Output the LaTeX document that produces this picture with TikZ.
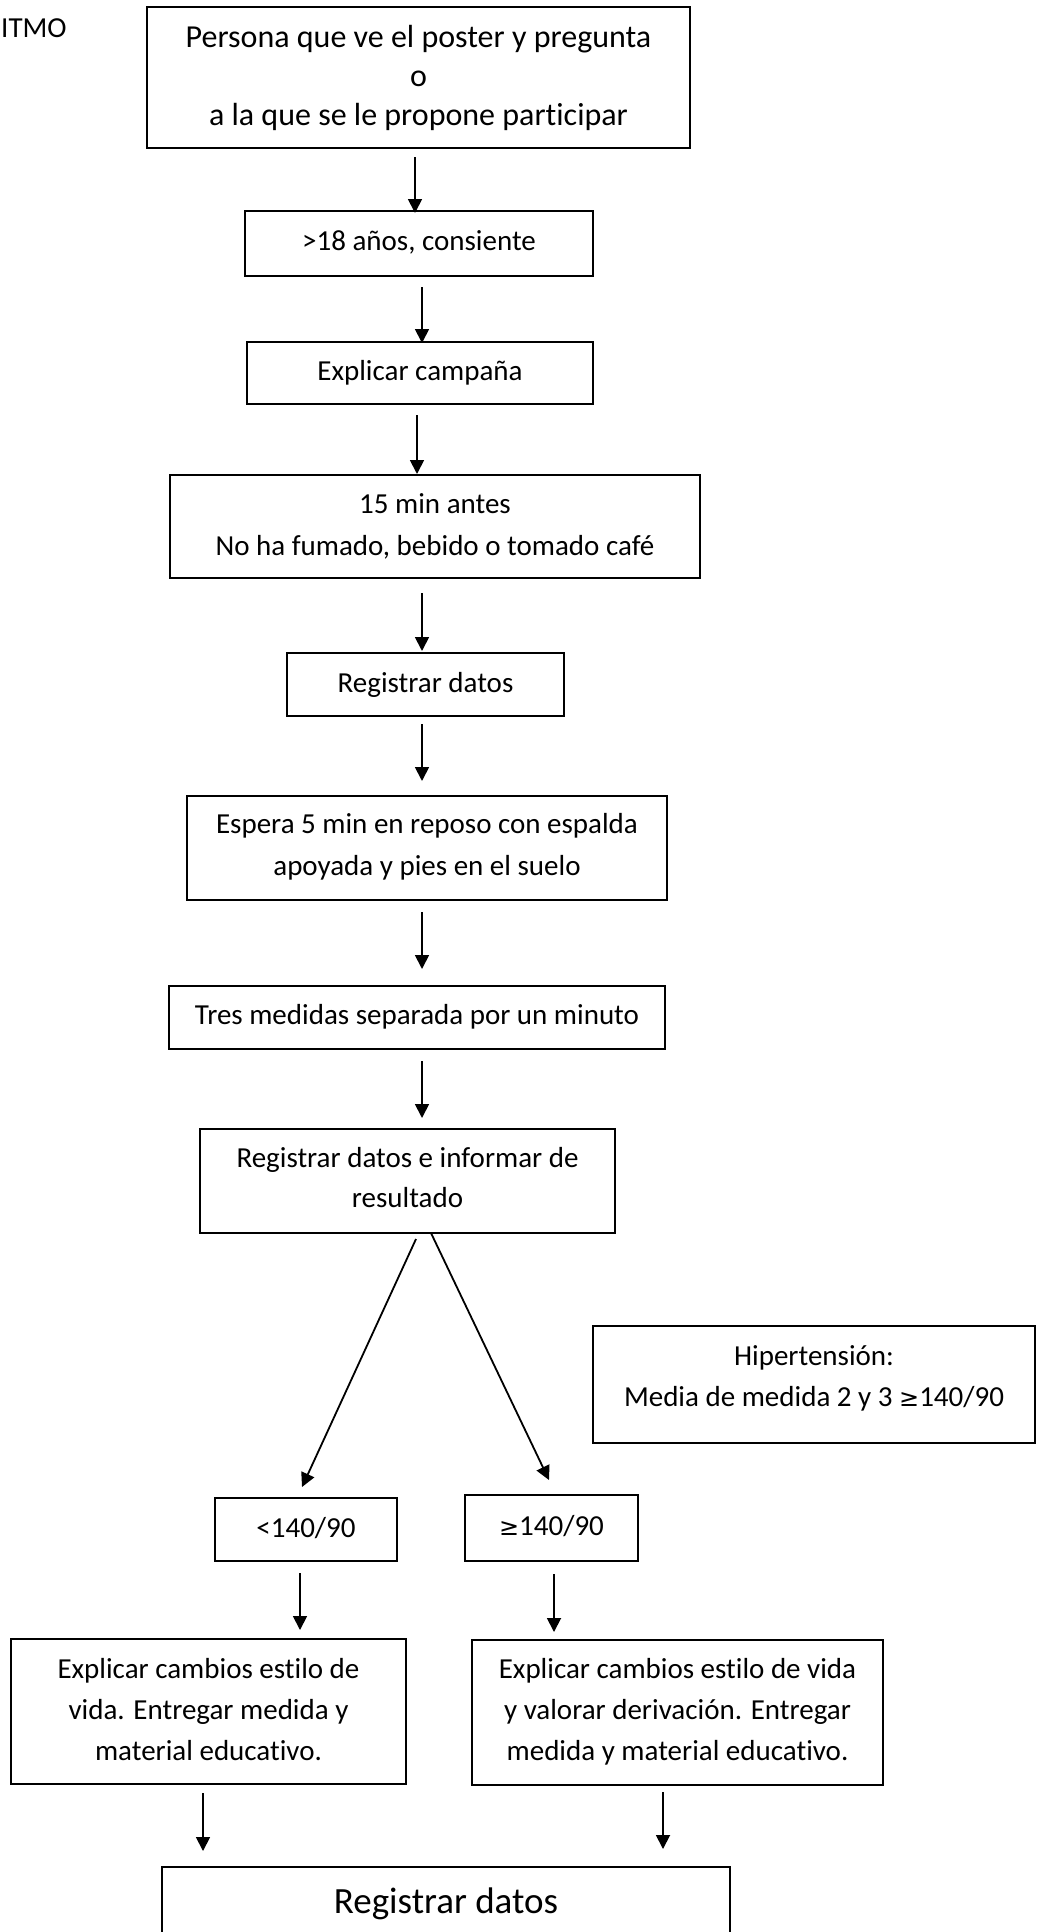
\documentclass[tikz,border=0pt]{standalone}
\usepackage{fontspec}
\setmainfont{Carlito}[Ligatures={NoCommon,NoRequired,NoContextual}]
\newfontfamily\symf{DejaVu Sans}
\usetikzlibrary{arrows.meta}
\begin{document}
\begin{tikzpicture}[x=1pt,y=-1pt,
  box/.style={draw, line width=1.9pt, inner sep=0pt, outer sep=0pt, text height=20pt},
  arr/.style={line width=1.8pt, -{Triangle[width=14pt,length=14pt]}},
  f11/.style={font=\fontsize{29}{41}\selectfont},
]
\useasboundingbox (0,0) rectangle (1036,1932);
\clip (0,0) rectangle (1036,1932);

\node[f11, anchor=base west, inner sep=0pt] (itmo) at (1,38) {ITMO};

\node[box, font=\fontsize{32}{39}\selectfont, minimum width=543pt, minimum height=141pt, text depth=79pt] (n1) at (418.5,77.5)
  {\begin{tabular}[t]{@{}c@{}}Persona que ve el poster y pregunta\\ o\\ a la que se le propone participar\end{tabular}};
\node[box, f11, minimum width=348pt, minimum height=65pt, text depth=7pt] (n2) at (419,243.5)
  {\begin{tabular}[t]{@{}c@{}}>18 años, consiente\end{tabular}};
\node[box, f11, minimum width=346pt, minimum height=62pt, text depth=6pt] (n3) at (420,373)
  {\begin{tabular}[t]{@{}c@{}}Explicar campaña\end{tabular}};
\node[box, font=\fontsize{29}{42}\selectfont, minimum width=530pt, minimum height=103pt, text depth=47pt] (n4) at (435,526.5)
  {\begin{tabular}[t]{@{}c@{}}15 min antes\\ No ha fumado, bebido o tomado café\end{tabular}};
\node[box, f11, minimum width=277pt, minimum height=63pt, text depth=5pt] (n5) at (425.5,684.5)
  {\begin{tabular}[t]{@{}c@{}}Registrar datos\end{tabular}};
\node[box, font=\fontsize{29}{42}\selectfont, minimum width=480pt, minimum height=104pt, text depth=50pt] (n6) at (427,848)
  {\begin{tabular}[t]{@{}c@{}}Espera 5 min en reposo con espalda\\ apoyada y pies en el suelo\end{tabular}};
\node[box, f11, minimum width=496pt, minimum height=63pt, text depth=7pt] (n7) at (417,1017.5)
  {\begin{tabular}[t]{@{}c@{}}Tres medidas separada por un minuto\end{tabular}};
\node[box, font=\fontsize{29}{40}\selectfont, minimum width=415pt, minimum height=104pt, text depth=48pt] (n8) at (407.5,1181)
  {\begin{tabular}[t]{@{}c@{}}Registrar datos e informar de\\ resultado\end{tabular}};
\node[box, f11, minimum width=442pt, minimum height=117pt, text depth=59pt] (hip) at (814,1384.5)
  {\begin{tabular}[t]{@{}c@{}}Hipertensión:\\ Media de medida 2 y 3 {\symf\fontsize{24}{41}\selectfont ≥}140/90\end{tabular}};
\node[box, f11, minimum width=182pt, minimum height=63pt, text depth=5pt] (lo) at (306,1529.5)
  {\begin{tabular}[t]{@{}c@{}}<140/90\end{tabular}};
\node[box, f11, minimum width=173pt, minimum height=66pt, text depth=6pt] (hi) at (551.5,1528)
  {\begin{tabular}[t]{@{}c@{}}{\symf\fontsize{24}{41}\selectfont ≥}140/90\end{tabular}};
\node[box, f11, minimum width=395pt, minimum height=145pt, text depth=87pt] (bl) at (208.5,1711.5)
  {\begin{tabular}[t]{@{}c@{}}Explicar cambios estilo de\\ vida. Entregar medida y\\ material educativo.\end{tabular}};
\node[box, f11, minimum width=411pt, minimum height=145pt, text depth=89pt] (br) at (677.5,1712.5)
  {\begin{tabular}[t]{@{}c@{}}Explicar cambios estilo de vida\\ y valorar derivación. Entregar\\ medida y material educativo.\end{tabular}};
\node[box, font=\fontsize{37}{44}\selectfont, minimum width=568pt, minimum height=123pt, text depth=51pt] (fin) at (446,1928.5)
  {\begin{tabular}[t]{@{}c@{}}Registrar datos\end{tabular}};

\draw[arr] ([xshift=-3.5pt,yshift=-9pt]n1.south) -- ([xshift=-4pt,yshift=-2pt]n2.north);
\draw[arr] ([xshift=3pt,yshift=-11pt]n2.south) -- ([xshift=2pt,yshift=-1pt]n3.north);
\draw[arr] ([xshift=-3pt,yshift=-11pt]n3.south) -- ([xshift=-18pt,yshift=1pt]n4.north);
\draw[arr] ([xshift=-13pt,yshift=-15pt]n4.south) -- ([xshift=-3.5pt,yshift=2pt]n5.north);
\draw[arr] ([xshift=-3.5pt,yshift=-8pt]n5.south) -- ([xshift=-5pt,yshift=15pt]n6.north);
\draw[arr] ([xshift=-5pt,yshift=-12pt]n6.south) -- ([xshift=5pt,yshift=17pt]n7.north);
\draw[arr] ([xshift=5pt,yshift=-12pt]n7.south) -- ([xshift=14.5pt,yshift=11pt]n8.north);
\draw[arr] ([xshift=8.5pt,yshift=-6pt]n8.south) -- ([xshift=-4pt,yshift=11pt]lo.north);
\draw[arr] ([xshift=23.5pt,yshift=0pt]n8.south) -- ([xshift=-2.5pt,yshift=15pt]hi.north);
\draw[arr] ([xshift=-6pt,yshift=-12pt]lo.south) -- ([xshift=91.5pt,yshift=9pt]bl.north);
\draw[arr] ([xshift=2.5pt,yshift=-13pt]hi.south) -- ([xshift=-123.5pt,yshift=8pt]br.north);
\draw[arr] ([xshift=-5.5pt,yshift=-9pt]bl.south) -- ([xshift=-243pt,yshift=16pt]fin.north);
\draw[arr] ([xshift=-14.5pt,yshift=-7pt]br.south) -- ([xshift=217pt,yshift=18pt]fin.north);
\end{tikzpicture}
\end{document}
